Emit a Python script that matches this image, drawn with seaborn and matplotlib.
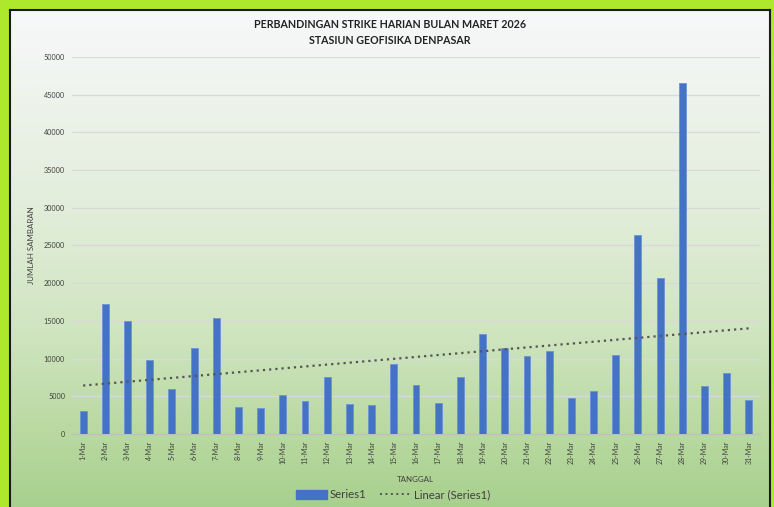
import numpy as np
import pandas as pd
import matplotlib.pyplot as plt
import seaborn as sns
from matplotlib.patches import Patch
from matplotlib.lines import Line2D
from matplotlib.colors import LinearSegmentedColormap

# Daily strike counts, March 2026
tanggal = [f"{d}-Mar" for d in range(1, 32)]
jumlah = [3000, 17200, 15050, 9850, 6000, 11350, 15350, 3550, 3450, 5200,
          4400, 7500, 4000, 3900, 9300, 6500, 4070, 7560, 13260, 11400,
          10340, 10970, 4770, 5750, 10480, 26450, 20750, 46500, 6300, 8100,
          4500]
y_ticks = list(range(0, 50001, 5000))

df = pd.DataFrame({"tanggal": tanggal, "jumlah": jumlah})

sns.set_style("white")
plt.rcParams["font.family"] = ["Lato", "DejaVu Sans"]

W, H = 774, 507
fig = plt.figure(figsize=(W / 100, H / 100), dpi=100)
fig.patch.set_facecolor("#aee82c")

# chart area with vertical gradient
bg = fig.add_axes([10 / W, 0, 760 / W, 497 / H])
grad_cmap = LinearSegmentedColormap.from_list(
    "bg", [(0, "#f7f8fa"), (0.38, "#e3eedc"), (0.64, "#d0e5c1"),
           (0.85, "#b9d9a1"), (1, "#a8d08d")])
bg.imshow(np.linspace(0, 1, 256).reshape(-1, 1), aspect="auto", cmap=grad_cmap,
          extent=[0, 1, 0, 1], origin="upper")
bg.set_xticks([])
bg.set_yticks([])
for s in bg.spines.values():
    s.set_color("#1a1a1a")
    s.set_linewidth(1.5)
bg.spines["bottom"].set_visible(False)

ax = fig.add_axes([72 / W, (H - 434) / H, (760 - 72) / W, (434 - 57) / H])
ax.set_facecolor("none")

sns.barplot(data=df, x="tanggal", y="jumlah", color="#4472C4", width=0.31,
            edgecolor="#6d93d4", linewidth=0.6, saturation=1, ax=ax, zorder=3)

# linear trendline
idx = np.arange(len(jumlah))
slope, intercept = np.polyfit(idx, jumlah, 1)
ax.plot(idx, slope * idx + intercept, color="#555555", lw=1.6,
        linestyle=(0, (1, 1.8)), zorder=4)

ax.set_xlim(-0.5, len(tanggal) - 0.5)
ax.set_ylim(0, 50000)
ax.set_yticks(y_ticks)
ax.set_yticklabels([str(v) for v in y_ticks], fontsize=5.2, color="#404040")
ax.grid(axis="y", color="#d9d9d9", lw=0.9, zorder=0)
ax.tick_params(axis="y", length=0, pad=5)
ax.tick_params(axis="x", which="major", length=0, labelsize=5, labelcolor="#404040",
               rotation=90, pad=5)
ax.set_xticks(np.arange(-0.5, len(tanggal), 1), minor=True)
ax.tick_params(axis="x", which="minor", length=3, color="#bfbfbf", width=0.8)
for s in ["top", "right", "left"]:
    ax.spines[s].set_visible(False)
ax.spines["bottom"].set_color("#bfbfbf")
ax.spines["bottom"].set_linewidth(1)

ax.set_xlabel("")
ax.set_ylabel("")
fig.text(415 / W, 1 - 479 / H, "TANGGAL", ha="center", va="center",
         fontsize=5.7, color="#404040")
fig.text(32 / W, 1 - 245 / H, "JUMLAH SAMBARAN", ha="center", va="center",
         rotation=90, fontsize=5.7, color="#404040")

fig.text(390 / W, 1 - 25 / H, "PERBANDINGAN STRIKE HARIAN BULAN MARET 2026",
         ha="center", va="center", fontsize=7.7, fontweight="bold", color="#222222")
fig.text(390 / W, 1 - 40 / H, "STASIUN GEOFISIKA DENPASAR",
         ha="center", va="center", fontsize=7.7, fontweight="bold", color="#222222")

handles = [Patch(facecolor="#4472C4", edgecolor="#4472C4"),
           Line2D([0], [0], color="#555555", lw=1.4, linestyle=(0, (1, 1.8)))]
fig.legend(handles, ["Series1", "Linear (Series1)"], loc="center",
           bbox_to_anchor=(393 / W, 1 - 495 / H), ncol=2, frameon=False,
           fontsize=8.2, labelcolor="#404040", handlelength=2.8, handleheight=0.9,
           handletextpad=0.2, columnspacing=1.2)

fig.savefig("out.png", dpi=100, facecolor=fig.get_facecolor())
